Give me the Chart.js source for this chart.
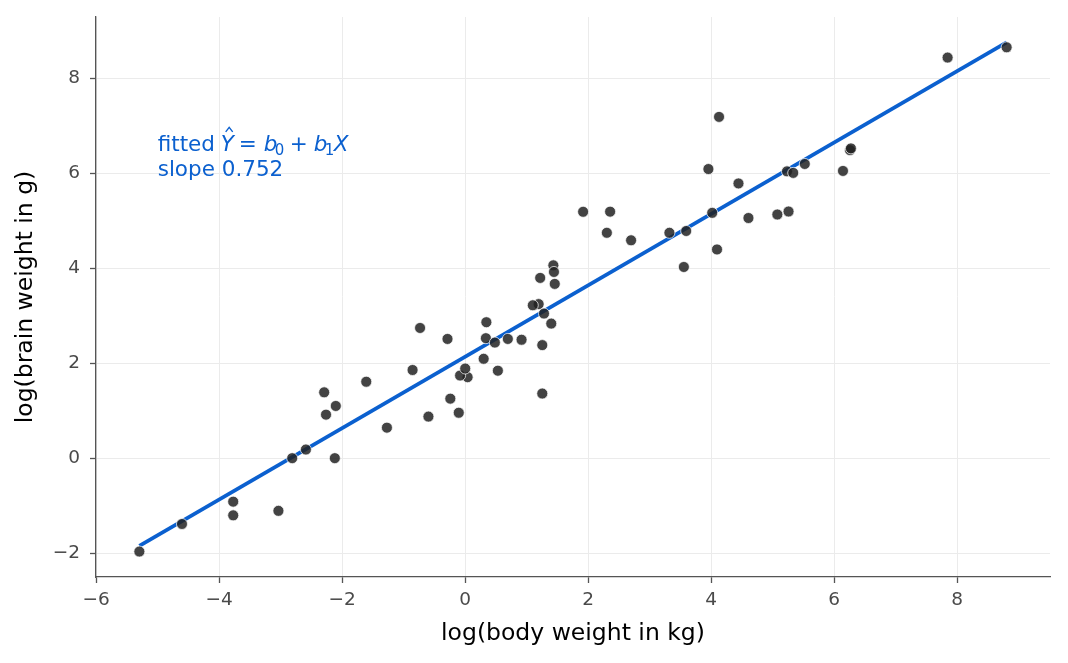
<!DOCTYPE html>
<html>
<head>
<meta charset="utf-8">
<script src="https://cdn.jsdelivr.net/npm/chart.js@4/dist/chart.umd.min.js"></script>
<style>
  html, body { margin: 0; padding: 0; background: #fff; }
  #wrap { width: 1068px; height: 663px; }
</style>
</head>
<body>
<div id="wrap"><canvas id="brainChart" width="1068" height="663"></canvas></div>
<script>
// log(body weight in kg) and log(brain weight in g), one entry per mammal
const logBody = [
  1.219, -0.734, 0.300, 6.142, 3.593, 3.320, 2.697, 0.039, 1.433, -0.856,
  -2.293, -0.083, 0.000, -5.298, -2.813, 1.253, 0.693, 0.531, 7.843, -3.772,
  5.232, 6.256, -0.242, 2.303, 1.194, -1.609, 0.344, 6.271, 5.333, 4.443,
  -0.288, 4.127, 8.803, 1.253, 1.917, 3.555, 1.399, -2.120, -3.772, -4.605,
  0.336, 5.521, 0.916, 4.016, 4.605, 3.954, 2.356, -0.598, 4.094, 1.281,
  1.456, -1.273, -2.590, -2.104, -3.037, 5.257, 1.099, 5.075, -0.105, 0.482,
  -2.263, 1.443
];
const logBrain = [
  3.795, 2.741, 2.092, 6.047, 4.783, 4.745, 4.587, 1.705, 4.060, 1.856,
  1.386, 1.740, 1.887, -1.966, 0.000, 2.380, 2.510, 1.841, 8.434, -1.204,
  6.038, 6.485, 1.253, 4.745, 3.243, 1.609, 2.862, 6.522, 6.006, 5.784,
  2.510, 7.185, 8.650, 1.361, 5.187, 4.025, 2.833, 0.000, -0.916, -1.386,
  2.526, 6.194, 2.493, 5.165, 5.056, 6.087, 5.190, 0.875, 4.394, 3.045,
  3.669, 0.642, 0.182, 1.099, -1.109, 5.193, 3.219, 5.130, 0.956, 2.434,
  0.916, 3.920
];
// fitted line y = b0 + b1 x, drawn between the smallest and largest x
const fitIntercept = 2.1348;
const fitSlope = 0.7517;
const fitX = [-5.298, 8.803];
const xTicks = [-6, -4, -2, 0, 2, 4, 6, 8];
const yTicks = [-2, 0, 2, 4, 6, 8];

const BLUE = '#0b60cf';
const points = logBody.map((x, i) => ({ x: x, y: logBrain[i] }));
const fitPoints = fitX.map(x => ({ x: x, y: fitIntercept + fitSlope * x }));

// draws the "fitted Ŷ = b0 + b1X / slope 0.752" note
const notePlugin = {
  id: 'note',
  afterDatasetsDraw(chart) {
    const ctx = chart.ctx;
    const xs = chart.scales.x, ys = chart.scales.y;
    const x0 = xs.getPixelForValue(-5.0);
    const base1 = ys.getPixelForValue(6.46);
    const base2 = base1 + 25;
    const fam = '"DejaVu Sans", sans-serif';
    const up = '21.5px ' + fam, it = 'oblique 21.5px ' + fam, sub = '15px ' + fam;
    ctx.save();
    ctx.fillStyle = BLUE;
    ctx.textBaseline = 'alphabetic';
    ctx.textAlign = 'left';
    // [text, font, x offset, baseline shift]
    const parts = [
      ['fitted', up, 0, 0], ['Y', it, 63, 0], ['=', up, 81, 0], ['b', it, 106, 0],
      ['0', sub, 117, 4], ['+', up, 132, 0], ['b', it, 156, 0], ['1', sub, 167, 4],
      ['X', it, 176, 0]
    ];
    parts.forEach(p => {
      ctx.font = p[1];
      ctx.fillText(p[0], x0 + p[2], base1 + p[3]);
    });
    // hat over Y
    ctx.strokeStyle = BLUE;
    ctx.lineWidth = 1.4;
    ctx.beginPath();
    ctx.moveTo(x0 + 68, base1 - 19.5);
    ctx.lineTo(x0 + 71.5, base1 - 24);
    ctx.lineTo(x0 + 75, base1 - 19.5);
    ctx.stroke();
    ctx.font = up;
    ctx.fillText('slope 0.752', x0, base2);
    ctx.restore();
  }
};

const tickFont = { family: '"DejaVu Sans", sans-serif', size: 18.5 };
const titleFont = { family: '"DejaVu Sans", sans-serif', size: 23.5 };

new Chart(document.getElementById('brainChart').getContext('2d'), {
  type: 'scatter',
  data: {
    datasets: [
      {
        label: 'mammals',
        data: points,
        pointRadius: 5.5,
        pointBackgroundColor: 'rgba(34,34,34,0.85)',
        pointBorderColor: 'rgba(255,255,255,0.9)',
        pointBorderWidth: 0.8
      },
      {
        type: 'line',
        label: 'fit',
        data: fitPoints,
        borderColor: BLUE,
        borderWidth: 3.8,
        pointRadius: 0,
        fill: false
      }
    ]
  },
  options: {
    responsive: false,
    animation: false,
    devicePixelRatio: 1,
    layout: { padding: { left: 0, top: 17, right: 18, bottom: 0 } },
    plugins: { legend: { display: false }, tooltip: { enabled: false } },
    scales: {
      x: {
        type: 'linear',
        min: -6.003, max: 9.508,
        afterBuildTicks: s => { s.ticks = xTicks.map(v => ({ value: v })); },
        afterFit: s => { s.height = 86; s.paddingLeft = 0; s.paddingRight = 0; },
        grid: { color: '#ebebeb', lineWidth: 1, tickLength: 6, tickColor: '#555', tickWidth: 1.3 },
        border: { color: '#555', width: 1.3 },
        ticks: {
          font: tickFont, color: '#4a4a4a', padding: 6,
          callback: v => String(v).replace('-', '\u2212')
        },
        title: { display: true, text: 'log(body weight in kg)', font: titleFont, color: '#000', padding: { top: 0, bottom: 15 } }
      },
      y: {
        type: 'linear',
        min: -2.502, max: 9.288,
        afterBuildTicks: s => { s.ticks = yTicks.map(v => ({ value: v })); },
        afterFit: s => { s.width = 96; s.paddingTop = 0; s.paddingBottom = 0; },
        grid: { color: '#ebebeb', lineWidth: 1, tickLength: 6, tickColor: '#555', tickWidth: 1.3 },
        border: { color: '#555', width: 1.3 },
        ticks: {
          font: tickFont, color: '#4a4a4a', padding: 10,
          callback: v => String(v).replace('-', '\u2212')
        },
        title: { display: true, text: 'log(brain weight in g)', font: titleFont, color: '#000', padding: { top: 12, bottom: 0 } }
      }
    }
  },
  plugins: [notePlugin]
});
</script>
</body>
</html>
